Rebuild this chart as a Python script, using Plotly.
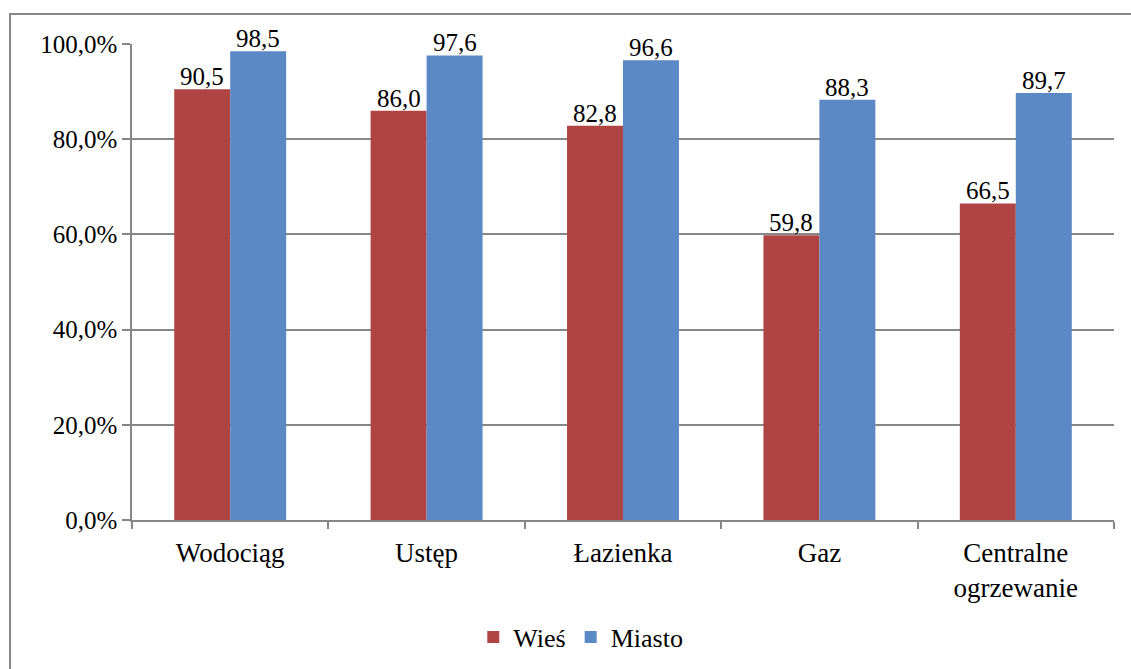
import plotly.graph_objects as go

categories = ["Wodociąg", "Ustęp", "Łazienka", "Gaz", "Centralne<br>ogrzewanie"]
wies = [90.5, 86.0, 82.8, 59.8, 66.5]
miasto = [98.5, 97.6, 96.6, 88.3, 89.7]
series_names = ["Wieś", "Miasto"]
colors = ["#AF4442", "#5A89C5"]
y_ticks = [0, 20, 40, 60, 80, 100]

FONT = "Liberation Serif"
BARGAP = 0.43

def fmt(v):
    return f"{v:.1f}".replace(".", ",")

fig = go.Figure()
for name, vals, col in zip(series_names, [wies, miasto], colors):
    fig.add_trace(go.Bar(
        x=categories, y=vals, name=name, marker_color=col,
        marker_line_width=0,
    ))

# value labels placed at each bar's top, offset to the bar centre
plot_w = 1131 - 132 - 17
cat_px = plot_w / len(categories)
bar_px = cat_px * (1 - BARGAP) / 2
for k, vals in enumerate([wies, miasto]):
    dx = (k - 0.5) * bar_px
    for c, v in zip(categories, vals):
        fig.add_annotation(x=c, y=v, text=fmt(v), showarrow=False,
                           xanchor="center", yanchor="bottom", xshift=dx, yshift=-3,
                           font=dict(family=FONT, size=25, color="black"))

fig.update_layout(
    width=1131, height=669,
    margin=dict(l=132, r=17, t=44, b=149, autoexpand=False),
    paper_bgcolor="white", plot_bgcolor="white",
    barmode="group", bargap=BARGAP, bargroupgap=0,
    font=dict(family=FONT, size=25, color="black"),
    showlegend=True,
    legend=dict(orientation="h", x=0.457, xanchor="center", y=-0.246, yanchor="middle",
                font=dict(family=FONT, size=26), itemwidth=30, tracegroupgap=0),
)
fig.update_yaxes(
    range=[0, 100], tickvals=y_ticks, ticktext=[fmt(v) + "%" for v in y_ticks],
    showgrid=True, gridcolor="#878787", gridwidth=1.5,
    showline=True, linecolor="#878787", linewidth=1.5,
    ticks="outside", ticklen=8, tickcolor="#878787", tickwidth=1.5,
    zeroline=False, tickfont=dict(family=FONT, size=25),
)
fig.update_xaxes(
    showline=True, linecolor="#878787", linewidth=1.5,
    ticks="outside", ticklen=7, tickcolor="#878787", tickwidth=1.5,
    tickson="boundaries", showgrid=False, ticklabelstandoff=8,
    tickfont=dict(family=FONT, size=27),
)
fig.add_shape(type="rect", xref="paper", yref="paper",
              x0=-0.1242, x1=1.03, y0=-0.35, y1=1.063,
              line=dict(color="#878787", width=2), fillcolor="rgba(0,0,0,0)", layer="below")

fig.write_html("out.html", config={"displayModeBar": False},
               post_script="document.body.style.margin='0';document.body.style.overflow='hidden';")
